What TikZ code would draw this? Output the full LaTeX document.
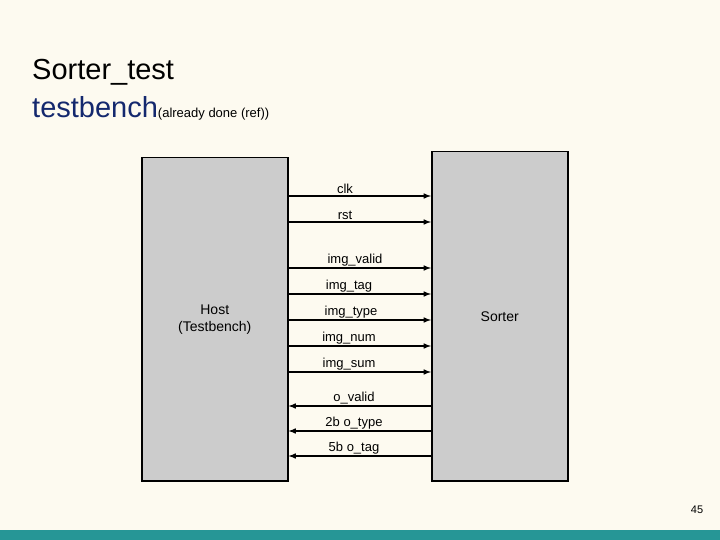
\documentclass[tikz,border=0pt]{standalone}
\usepackage{fontspec}
\setmainfont{Liberation Sans}
\usetikzlibrary{positioning}
\definecolor{mcream}{RGB}{253,250,240}
\definecolor{mgrey}{RGB}{204,204,204}
\definecolor{mtitle}{RGB}{20,40,110}
\definecolor{mteal}{RGB}{38,150,150}
\tikzset{
  block/.style={draw=black, line width=1.5pt, fill=mgrey, inner sep=0pt},
  sig/.style={line width=1.5pt, -latex},
  sigback/.style={line width=1.5pt, latex-},
  siglabel/.style={font=\fontsize{13}{15}\selectfont, anchor=south, inner sep=2pt}
}
\begin{document}
\begin{tikzpicture}[x=1pt,y=-1pt]
    \path[fill=mcream] (0,0) rectangle (720,540);
    \useasboundingbox (0,0) rectangle (720,540);
    \fill[mteal] (0,530) rectangle (720,540);

    % title
    \node[anchor=west, inner sep=0pt, font=\fontsize{29}{32}\selectfont] (title) at (32,72) {Sorter\_test};
    \node[anchor=west, inner sep=0pt] (subtitle) at (32,108) {\textcolor{mtitle}{\fontsize{29}{32}\selectfont testbench}{\fontsize{13}{15}\selectfont(already done (ref))}};

    % blocks
    \node[block, minimum width=146pt, minimum height=323pt, anchor=north west,
          align=center, font=\fontsize{14}{17}\selectfont] (host) at (141,157) {Host\\(Testbench)};
    \node[block, minimum width=136pt, minimum height=329pt, anchor=north west,
          font=\fontsize{14}{17}\selectfont] (sorter) at (431,151) {Sorter};

    % inputs of the sorter
    \foreach \y/\lx/\txt in {196/345/clk, 222/345/rst, 268/355/img\_valid, 294/349/img\_tag,
                             320/351/img\_type, 346/349/img\_num, 372/349/img\_sum} {
        \draw[sig] (host.east |- 0,\y) -- (sorter.west |- 0,\y);
        \node[siglabel] at (\lx,\y) {\txt};
    }

    % outputs of the sorter
    \foreach \y/\lx/\txt in {406/354/o\_valid, 431/354/2b o\_type, 456/354/5b o\_tag} {
        \draw[sigback] (host.east |- 0,\y) -- (sorter.west |- 0,\y);
        \node[siglabel] at (\lx,\y) {\txt};
    }

    \node[font=\fontsize{11}{13}\selectfont] (page) at (697,510) {45};
\end{tikzpicture}
\end{document}
